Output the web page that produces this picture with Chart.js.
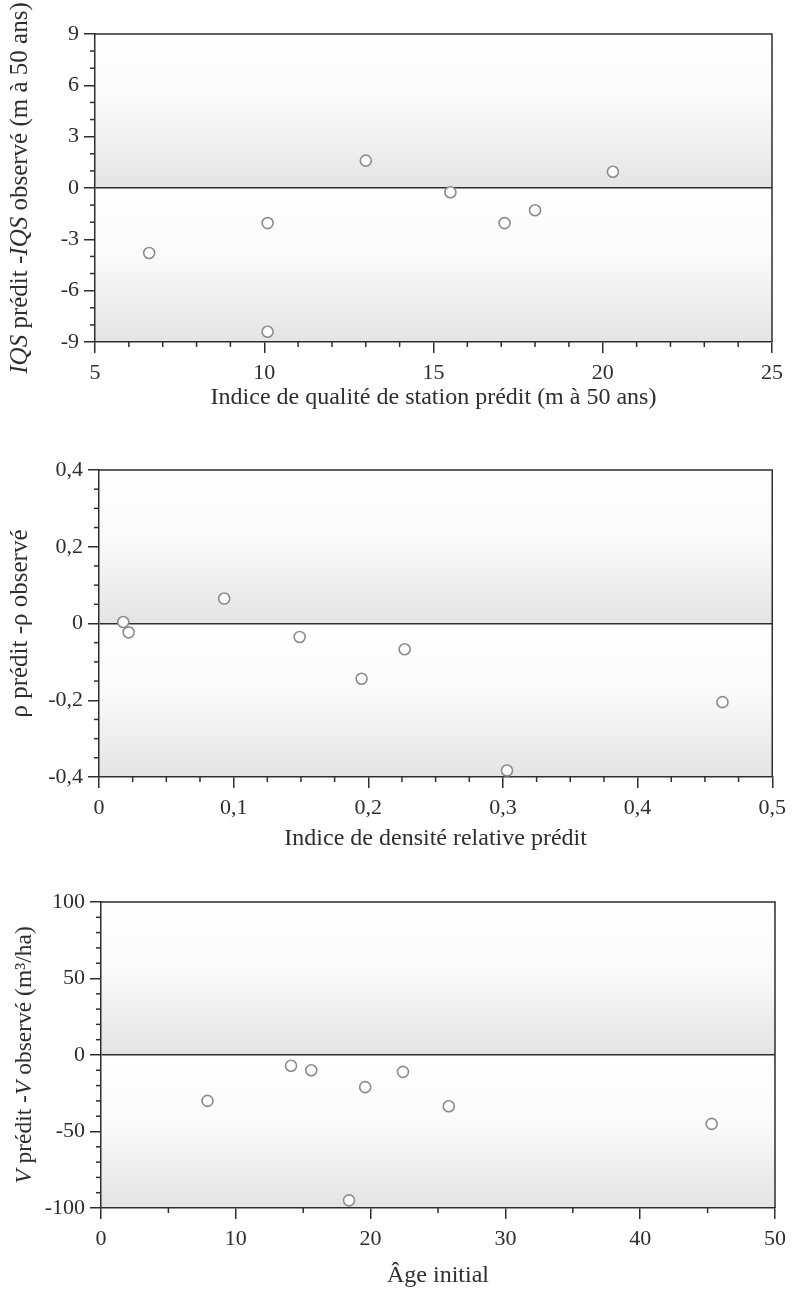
<!DOCTYPE html>
<html>
<head>
<meta charset="utf-8">
<script src="https://cdn.jsdelivr.net/npm/chart.js@4/dist/chart.umd.min.js"></script>
<style>
  html, body { margin: 0; padding: 0; background: #fff; }
  body { width: 793px; height: 1292px; position: relative; overflow: hidden; }
  .panel { position: absolute; left: 0; width: 793px; }
</style>
</head>
<body>
<div class="panel" style="top:0;height:420px"><canvas id="c1"></canvas></div>
<div class="panel" style="top:420px;height:450px"><canvas id="c2"></canvas></div>
<div class="panel" style="top:870px;height:422px"><canvas id="c3"></canvas></div>
<script>
// ---- Data ----
const iqsPredicted = [6.6, 10.1, 10.1, 13.0, 15.5, 17.1, 18.0, 20.3];
const iqsResidual  = [-3.8, -2.05, -8.4, 1.6, -0.25, -2.05, -1.3, 0.95];

const rhoPredicted = [0.018, 0.022, 0.093, 0.149, 0.195, 0.227, 0.303, 0.463];
const rhoResidual  = [0.004, -0.023, 0.065, -0.035, -0.144, -0.067, -0.383, -0.205];

const initialAge   = [7.9, 14.1, 15.6, 18.4, 19.6, 22.4, 25.8, 45.3];
const volResidual  = [-30, -7, -10, -95, -21, -11, -33.5, -45];

// ---- Tick labels ----
const iqsXTicks = [5, 10, 15, 20, 25];
const iqsYTicks = [-9, -6, -3, 0, 3, 6, 9];
const rhoXTicks = [0, 0.1, 0.2, 0.3, 0.4, 0.5];
const rhoYTicks = [-0.4, -0.2, 0, 0.2, 0.4];
const ageXTicks = [0, 10, 20, 30, 40, 50];
const volYTicks = [-100, -50, 0, 50, 100];

// minor tick steps
const iqsMinor = { x: 1, y: 1 };
const rhoMinor = { x: 0.025, y: 0.05 };
const volMinor = { x: 5, y: 10 };

// ---- Styling ----
const FONT = '"Liberation Serif", "Times New Roman", serif';
const INK = '#2e2e2e';
const TICK_SIZE = 22;
const XTITLE_SIZE = 24;

function fmt(v, dec) {
  if (Math.abs(v) < 1e-9) return '0';
  return v.toFixed(dec).replace('.', ',');
}

const bgPlugin = {
  id: 'bgGrad',
  beforeDraw(chart) {
    const { ctx, chartArea: a } = chart;
    const y0 = chart.scales.y.getPixelForValue(0);
    ctx.save();
    let g = ctx.createLinearGradient(0, a.top, 0, y0);
    g.addColorStop(0, '#ffffff');
    g.addColorStop(0.45, '#fafafa');
    g.addColorStop(1, '#e4e4e4');
    ctx.fillStyle = g;
    ctx.fillRect(a.left, a.top, a.right - a.left, y0 - a.top);
    g = ctx.createLinearGradient(0, y0, 0, a.bottom);
    g.addColorStop(0, '#ffffff');
    g.addColorStop(0.45, '#fafafa');
    g.addColorStop(1, '#e4e4e4');
    ctx.fillStyle = g;
    ctx.fillRect(a.left, y0, a.right - a.left, a.bottom - y0);
    ctx.restore();
  }
};

const framePlugin = {
  id: 'frame',
  afterDraw(chart, args, opts) {
    const { ctx, chartArea: a } = chart;
    ctx.save();
    ctx.strokeStyle = INK;
    ctx.lineWidth = 1.5;
    ctx.beginPath();
    ctx.moveTo(a.left, a.top);
    ctx.lineTo(a.right, a.top);
    ctx.lineTo(a.right, a.bottom);
    ctx.stroke();
    // minor ticks from the library's scales
    ['x', 'y'].forEach(id => {
      const s = chart.scales[id];
      const step = opts.minor[id];
      const n = Math.round((s.max - s.min) / step);
      const majors = s.ticks.map(t => t.value);
      for (let i = 0; i <= n; i++) {
        const v = s.min + i * step;
        if (majors.some(m => Math.abs(m - v) < step / 10)) continue;
        const p = s.getPixelForValue(v);
        ctx.beginPath();
        if (id === 'x') { ctx.moveTo(p, a.bottom); ctx.lineTo(p, a.bottom + 5); }
        else { ctx.moveTo(a.left, p); ctx.lineTo(a.left - 5, p); }
        ctx.stroke();
      }
    });
    ctx.restore();
  }
};

const yTitlePlugin = {
  id: 'yTitle',
  afterDraw(chart, args, opts) {
    const { ctx, chartArea: a } = chart;
    const fN = `${opts.size}px ${FONT}`;
    const fI = `italic ${opts.size}px ${FONT}`;
    ctx.save();
    let total = 0;
    const w = opts.segments.map(s => {
      ctx.font = s.italic ? fI : fN;
      const m = ctx.measureText(s.text).width;
      total += m;
      return m;
    });
    ctx.translate(opts.x, (a.top + a.bottom) / 2);
    ctx.rotate(-Math.PI / 2);
    ctx.fillStyle = INK;
    ctx.textBaseline = 'middle';
    ctx.textAlign = 'left';
    let cx = -total / 2;
    opts.segments.forEach((s, i) => {
      ctx.font = s.italic ? fI : fN;
      ctx.fillText(s.text, cx, 0);
      cx += w[i];
    });
    ctx.restore();
  }
};

function makeChart(id, cfg) {
  const data = cfg.xs.map((x, i) => ({ x: x, y: cfg.ys[i] }));
  return new Chart(document.getElementById(id), {
    type: 'scatter',
    data: {
      datasets: [{
        data: data,
        pointStyle: 'circle',
        pointRadius: 5.5,
        pointHoverRadius: 5.5,
        borderWidth: 1.6,
        borderColor: '#8c8c8c',
        backgroundColor: '#ffffff',
        clip: false
      }]
    },
    options: {
      responsive: true,
      maintainAspectRatio: false,
      animation: false,
      events: [],
      layout: { padding: { left: 0, right: cfg.padRight, top: cfg.padTop, bottom: 0 } },
      plugins: {
        legend: { display: false },
        tooltip: { enabled: false },
        frame: { minor: cfg.minor },
        yTitle: { x: cfg.yTitleX, size: cfg.yTitleSize, segments: cfg.yTitle }
      },
      scales: {
        x: {
          type: 'linear',
          min: cfg.xTicks[0],
          max: cfg.xTicks[cfg.xTicks.length - 1],
          afterBuildTicks: s => { s.ticks = cfg.xTicks.map(v => ({ value: v })); },
          afterFit: s => { s.height = cfg.xAxisHeight; },
          grid: {
            drawOnChartArea: false,
            drawTicks: true,
            tickLength: 11,
            lineWidth: 1.5,
            color: INK,
            tickColor: INK
          },
          border: { display: true, color: INK, width: 1.5 },
          ticks: {
            padding: 7,
            maxRotation: 0,
            color: INK,
            font: { family: FONT, size: TICK_SIZE },
            callback: v => fmt(v, cfg.xDec)
          },
          title: {
            display: true,
            text: cfg.xTitle,
            color: INK,
            font: { family: FONT, size: XTITLE_SIZE },
            padding: { top: 0, bottom: cfg.xTitlePad }
          }
        },
        y: {
          type: 'linear',
          min: cfg.yTicks[0],
          max: cfg.yTicks[cfg.yTicks.length - 1],
          afterBuildTicks: s => { s.ticks = cfg.yTicks.map(v => ({ value: v })); },
          afterFit: s => { s.width = cfg.yAxisWidth; },
          grid: {
            drawOnChartArea: true,
            drawTicks: true,
            tickLength: 11,
            lineWidth: 1.5,
            color: c => (c.tick && Math.abs(c.tick.value) < 1e-9) ? INK : 'rgba(0,0,0,0)',
            tickColor: INK
          },
          border: { display: true, color: INK, width: 1.5 },
          ticks: {
            padding: 5,
            color: INK,
            font: { family: FONT, size: TICK_SIZE },
            callback: v => fmt(v, cfg.yDec)
          }
        }
      }
    },
    plugins: [bgPlugin, framePlugin, yTitlePlugin]
  });
}

makeChart('c1', {
  xs: iqsPredicted, ys: iqsResidual,
  xTicks: iqsXTicks, yTicks: iqsYTicks, xDec: 0, yDec: 0,
  minor: iqsMinor,
  padTop: 34, padRight: 21, yAxisWidth: 95, xAxisHeight: 78, xTitlePad: 8,
  xTitle: 'Indice de qualité de station prédit (m à 50 ans)',
  yTitleX: 20, yTitleSize: 25,
  yTitle: [
    { text: 'IQS', italic: true }, { text: ' prédit -' },
    { text: 'IQS', italic: true }, { text: ' observé (m à 50 ans)' }
  ]
});

makeChart('c2', {
  xs: rhoPredicted, ys: rhoResidual,
  xTicks: rhoXTicks, yTicks: rhoYTicks, xDec: 1, yDec: 1,
  minor: rhoMinor,
  padTop: 50, padRight: 18, yAxisWidth: 99, xAxisHeight: 93, xTitlePad: 17,
  xTitle: 'Indice de densité relative prédit',
  yTitleX: 20, yTitleSize: 25,
  yTitle: [ { text: 'ρ prédit -ρ observé' } ]
});

makeChart('c3', {
  xs: initialAge, ys: volResidual,
  xTicks: ageXTicks, yTicks: volYTicks, xDec: 0, yDec: 0,
  minor: volMinor,
  padTop: 32, padRight: 16, yAxisWidth: 101, xAxisHeight: 84, xTitlePad: 2,
  xTitle: 'Âge initial',
  yTitleX: 25, yTitleSize: 23.5,
  yTitle: [
    { text: 'V', italic: true }, { text: ' prédit -' },
    { text: 'V', italic: true }, { text: ' observé (m³/ha)' }
  ]
});
</script>
</body>
</html>
